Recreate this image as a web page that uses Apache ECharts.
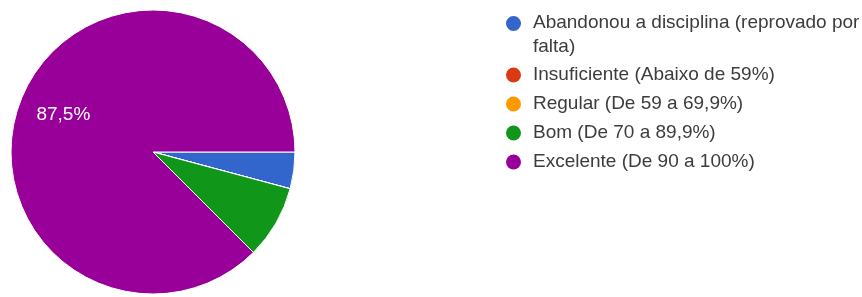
<!DOCTYPE html>
<html>
<head>
<meta charset="utf-8">
<script src="https://cdn.jsdelivr.net/npm/echarts@6/dist/echarts.min.js"></script>
<style>html,body{margin:0;padding:0;background:#fff;}#c{width:862px;height:297px;}</style>
</head>
<body>
<div id="c"></div>
<script>
var categories = [
  'Abandonou a disciplina (reprovado por falta)',
  'Insuficiente (Abaixo de 59%)',
  'Regular (De 59 a 69,9%)',
  'Bom (De 70 a 89,9%)',
  'Excelente (De 90 a 100%)'
];
var counts = [1, 0, 0, 2, 21];
var colors = ['#3366cc', '#dc3912', '#ff9900', '#109618', '#990099'];

var data = categories.map(function (c, i) { return { name: c, value: counts[i] }; });
var FONT = '"Liberation Sans", Arial, sans-serif';

function baseLegend() {
  return {
    orient: 'vertical',
    left: 506,
    padding: 0,
    itemGap: 5,
    itemWidth: 15,
    itemHeight: 15,
    icon: 'circle',
    selectedMode: false,
    itemStyle: { borderWidth: 0 },
    textStyle: {
      fontFamily: FONT,
      fontSize: 19,
      color: '#3c3c3c',
      lineHeight: 24,
      padding: [0, 0, 0, 7]
    }
  };
}

// two-line entry: circle drawn at the top of a tall icon box so it lines up with the first text line
var legend1 = baseLegend();
legend1.top = 11;
legend1.itemHeight = 38;
legend1.icon = 'path://M0,7.5A7.5,7.5 0 1,0 15,7.5A7.5,7.5 0 1,0 0,7.5Z M7.5,38L7.5,38Z';
legend1.data = [categories[0]];
legend1.formatter = function (name) { return name.replace(' por falta', ' por\nfalta'); };

var legend2 = baseLegend();
legend2.top = 63;
legend2.data = categories.slice(1);

var chart = echarts.init(document.getElementById('c'), null, { renderer: 'canvas' });
chart.setOption({
  animation: false,
  color: colors,
  legend: [legend1, legend2],
  series: [
    {
      type: 'pie',
      center: [153, 152],
      radius: 142,
      startAngle: 0,
      clockwise: true,
      avoidLabelOverlap: false,
      label: { show: false },
      labelLine: { show: false },
      emphasis: { disabled: true },
      itemStyle: { borderColor: '#fff', borderWidth: 1 },
      data: data
    },
    {
      type: 'pie',
      center: [153, 152],
      radius: [46, 142],
      startAngle: 0,
      clockwise: true,
      silent: true,
      legendHoverLink: false,
      avoidLabelOverlap: false,
      itemStyle: { color: 'rgba(0,0,0,0)' },
      labelLine: { show: false },
      emphasis: { disabled: true },
      label: {
        show: true,
        position: 'inside',
        fontFamily: FONT,
        fontSize: 19,
        color: '#fff',
        formatter: function (p) {
          if (p.percent < 10) return '';
          return p.percent.toFixed(1).replace('.', ',') + '%';
        }
      },
      data: data.map(function (d) { return { name: d.name + ' ', value: d.value }; })
    }
  ]
});
</script>
</body>
</html>
